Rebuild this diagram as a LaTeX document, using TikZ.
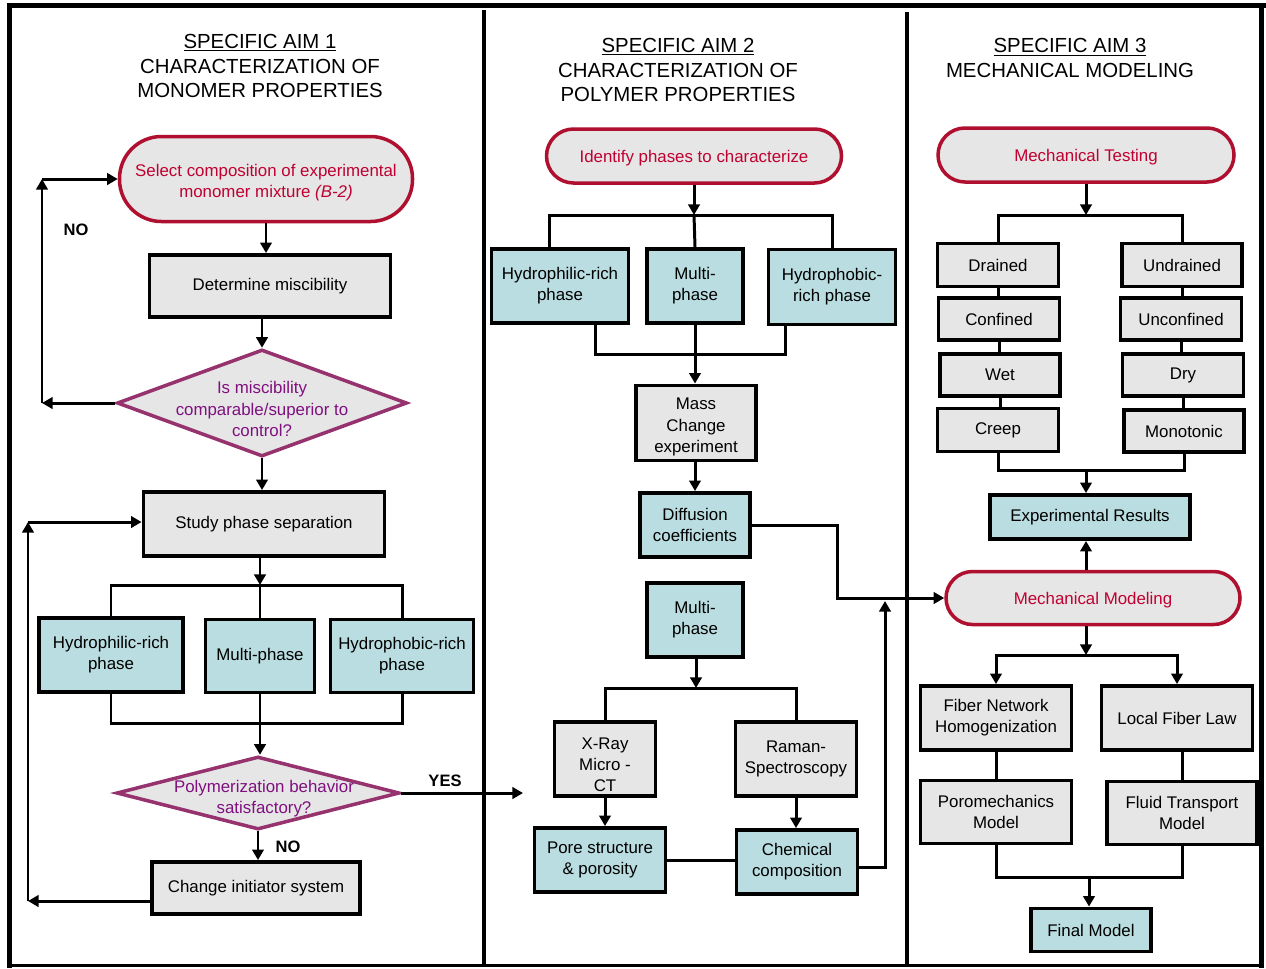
\documentclass[tikz,border=0pt]{standalone}
\usepackage{fontspec}
\setmainfont{Liberation Sans}
\usetikzlibrary{arrows.meta,shapes.geometric,calc}
\definecolor{gfill}{RGB}{230,230,230}
\definecolor{bfill}{RGB}{185,221,224}
\definecolor{tborder}{RGB}{176,16,48}
\definecolor{ttext}{RGB}{192,0,48}
\definecolor{dborder}{RGB}{150,50,110}
\definecolor{dtext}{RGB}{128,16,128}
\newcommand\myboxfont{\fontsize{9.6}{12}\selectfont}
\newcommand\myttlfont{\fontsize{11.6}{14.2}\selectfont}
\newcommand\mylblfont{\fontsize{9.4}{11}\selectfont\bfseries}
\tikzset{
  sz/.style 2 args={minimum width=#1*0.02cm, minimum height=#2*0.02cm},
  gbox/.style={draw=black, fill=gfill, line width=2.2pt, align=center, inner sep=0pt, font=\myboxfont},
  bbox/.style={gbox, fill=bfill},
  term/.style={draw=tborder, fill=gfill, line width=2pt, align=center, inner sep=0pt, font=\myboxfont, text=ttext},
  dia/.style={shape=diamond, draw=dborder, fill=gfill, line width=2pt, inner sep=0pt},
  diatext/.style={align=center, font=\myboxfont, text=dtext, inner sep=0pt},
  boxtext/.style={align=center, font=\myboxfont, inner sep=0pt},
  conn/.style={line width=1.7pt, draw=black},
  arr/.style={conn, -{Triangle[length=6pt,width=6.5pt]}},
  frame/.style={draw=black},
  ttl/.style={align=center, font=\myttlfont, inner sep=0pt},
  lbl/.style={font=\mylblfont, inner sep=0pt}
}
\begin{document}
\begin{tikzpicture}[x=0.02cm,y=-0.02cm]
\useasboundingbox (0,0) rectangle (1266,968);
\fill[white] (0,0) rectangle (1266,968);
% frame
\draw[frame, line width=2.8pt] (7,5.5) -- (1266,5.5);
\draw[frame, line width=2.8pt] (9.5,4) -- (9.5,968);
\draw[frame, line width=2.5pt] (1261.5,5) -- (1261.5,968);
\draw[frame, line width=1.2pt] (9,965.5) -- (1262,965.5);
\draw[frame, line width=2.2pt] (484,10) -- (484,966);
\draw[frame, line width=2.2pt] (907,12) -- (907,966);

% titles
\node[ttl] (ti1) at (260,66) {\underline{SPECIFIC AIM 1}\\CHARACTERIZATION OF\\MONOMER PROPERTIES};
\node[ttl] (ti2) at (678,70) {\underline{SPECIFIC AIM 2}\\CHARACTERIZATION OF\\POLYMER PROPERTIES};
\node[ttl] (ti3) at (1070,58) {\underline{SPECIFIC AIM 3}\\MECHANICAL MODELING};

% ---------- column 1 ----------
\node[term, sz={293}{85}, rounded corners=0.84cm] (t1) at (266,179) {};
\node[boxtext, text=ttext] (t1t) at (266,183) {Select composition of experimental\\monomer mixture \textit{(B-2)}};
\node[gbox, sz={241}{62}] (dm) at (270,286) {Determine miscibility};
\node[dia, sz={290}{107}] (d1) at (262,403) {};
\node[diatext] (d1t) at (262,409) {Is miscibility\\comparable/superior to\\control?};
\node[gbox, sz={241}{64}] (sp) at (264,524) {Study phase separation};
\node[bbox, sz={144}{74}] (h1) at (111,655) {Hydrophilic-rich\\phase};
\node[bbox, sz={109}{73}] (m1) at (260,656) {Multi-phase};
\node[bbox, sz={143}{73}] (p1) at (402,656) {Hydrophobic-rich\\phase};
\node[dia, sz={283}{73}] (d2) at (258,793) {};
\node[diatext] (d2t) at (264,799) {Polymerization behavior\\satisfactory?};
\node[gbox, sz={208}{52}] (ci) at (256,888) {Change initiator system};

\coordinate (n1) at (42,403);
\coordinate (n2) at (42,179);
\coordinate (j1) at (260,585);
\coordinate (j2) at (260,723);
\coordinate (yes) at (523,793);
\coordinate (l1) at (28,901);
\coordinate (l2) at (28,522);

\draw[arr] (t1.south) -- (t1.south |- dm.north);
\draw[arr] (dm.south -| d1.north) -- (d1.north);
\draw[arr] (d1.west) -- (n1);
\draw[arr] (n1) -- (n2);
\draw[arr] (n2) -- (t1.west);
\node[lbl] (no1) at (76,230) {NO};
\draw[arr] (d1.south) -- (d1.south |- sp.north);
\draw[arr] (sp.south -| j1) -- (j1);
\draw[conn] (h1.north) |- (j1) -| (p1.north);
\draw[conn] (j1) -- (m1.north);
\draw[conn] (h1.south) |- (j2) -| (p1.south);
\draw[arr] (m1.south) -- (m1.south |- d2.north);
\draw[arr] (d2.east) -- (yes);
\node[lbl] (yeslbl) at (445,781) {YES};
\draw[arr] (d2.south) -- (d2.south |- ci.north);
\node[lbl] (no2) at (288,847) {NO};
\draw[arr] (ci.west |- l1) -- (l1);
\draw[arr] (l1) -- (l2);
\draw[arr] (l2) -- (sp.west |- l2);

% ---------- column 2 ----------
\node[term, sz={295}{54}, rounded corners=0.54cm] (t2) at (694,156) {};
\node[boxtext, text=ttext] (t2t) at (694,158) {Identify phases to characterize};
\node[bbox, sz={137}{74}] (h2) at (560,286) {Hydrophilic-rich\\phase};
\node[bbox, sz={96}{74}] (m2) at (695,286) {Multi-\\phase};
\node[bbox, sz={127}{75}] (p2) at (832,287) {Hydrophobic-\\rich phase};
\node[gbox, sz={120}{75}] (ms) at (696,423) {};
\node[boxtext] (mst) at (696,427) {Mass\\Change\\experiment};
\node[bbox, sz={110}{64}] (df) at (695,525) {Diffusion\\coefficients};
\node[bbox, sz={96}{74}] (m3) at (695,620) {Multi-\\phase};
\node[gbox, sz={101}{74}] (xr) at (605,759) {};
\node[boxtext] (xrt) at (605,765) {X-Ray\\Micro -\\CT};
\node[gbox, sz={121}{74}] (rs) at (796,759) {Raman-\\Spectroscopy};
\node[bbox, sz={131}{64}] (ps) at (600,860) {Pore structure\\\& porosity};
\node[bbox, sz={121}{64}] (cc) at (797,862) {Chemical\\composition};

\coordinate (j3) at (694,215);
\coordinate (c1) at (549,215);
\coordinate (c3) at (595,354);
\coordinate (c4) at (785,354);
\coordinate (k1) at (837,560);
\coordinate (j5) at (696,688);
\coordinate (k2) at (885,601);
\coordinate (k3) at (870,867);

\draw[arr] (t2.south) -- (j3);
\draw[conn] (h2.north -| c1) -- (c1) -- (j3) -| (p2.north);
\draw[conn] (j3) -- (m2.north);
\draw[conn] (h2.south -| c3) -- (c3) -- (c4) -- (p2.south -| c4);
\draw[arr] (m2.south) -- (m2.south |- ms.north);
\draw[arr] (ms.south -| df.north) -- (df.north);
\draw[arr] (m3.south -| j5) -- (j5);
\draw[conn] (xr.north) |- (j5) -| (rs.north);
\draw[arr] (xr.south) -- (xr.south |- ps.north);
\draw[arr] (rs.south) -- (rs.south |- cc.north);
\draw[conn] (ps.east) -- (ps.east -| cc.west);
\draw[arr] (cc.east |- k3) -| (k2);

% ---------- column 3 ----------
\node[term, sz={296}{54}, rounded corners=0.54cm] (t3) at (1086,155) {};
\node[boxtext, text=ttext] (t3t) at (1086,157) {Mechanical Testing};
\node[gbox, sz={121}{43}] (dr) at (998,265) {Drained};
\node[gbox, sz={121}{42}] (cf) at (999,319) {Confined};
\node[gbox, sz={120}{42}] (wt) at (1000,375) {Wet};
\node[gbox, sz={121}{43}] (cr) at (998,430) {Creep};
\node[gbox, sz={120}{43}] (ud) at (1182,265) {Undrained};
\node[gbox, sz={121}{42}] (uc) at (1181,319) {Unconfined};
\node[gbox, sz={121}{42}] (dy) at (1183,375) {Dry};
\node[gbox, sz={120}{42}] (mo) at (1184,431) {Monotonic};
\node[bbox, sz={200}{44}] (er) at (1090,517) {Experimental Results};
\node[term, sz={294}{53}, rounded corners=0.53cm] (mm) at (1093,598) {};
\node[boxtext, text=ttext] (mmt) at (1093,600) {Mechanical Modeling};
\node[gbox, sz={151}{64}] (fn) at (996,718) {Fiber Network\\Homogenization};
\node[gbox, sz={151}{64}] (lf) at (1177,718) {Local Fiber Law};
\node[gbox, sz={151}{63}] (pm) at (996,812) {Poromechanics\\Model};
\node[gbox, sz={150}{63}] (ft) at (1182,813) {Fluid Transport\\Model};
\node[bbox, sz={120}{43}] (fm) at (1091,930) {Final Model};

\coordinate (j6) at (1086,215);
\coordinate (j7) at (1086,470);
\coordinate (j8) at (1086,655);
\coordinate (j9) at (1089,877);

\draw[arr] (t3.south) -- (j6);
\draw[conn] (dr.north) |- (j6) -| (ud.north);
\draw[conn] (dr.south) -- (dr.south |- cf.north);
\draw[conn] (cf.south) -- (cf.south |- wt.north);
\draw[conn] (wt.south) -- (wt.south |- cr.north);
\draw[conn] (ud.south) -- (ud.south |- uc.north);
\draw[conn] (uc.south) -- (uc.south |- dy.north);
\draw[conn] (dy.south) -- (dy.south |- mo.north);
\draw[conn] (cr.south) |- (j7) -| (mo.south);
\draw[arr] (j7) -- (j7 |- er.north);
\draw[arr] (j7 |- mm.north) -- (j7 |- er.south);
\draw[arr] (df.east) -| (k1) |- (mm.west);
\draw[arr] (j8 |- mm.south) -- (j8);
\draw[arr] (j8) -| (fn.north);
\draw[arr] (j8) -| (lf.north);
\draw[conn] (fn.south) -- (fn.south |- pm.north);
\draw[conn] (ft.north |- lf.south) -- (ft.north);
\draw[conn] (pm.south) |- (j9) -| (ft.south);
\draw[arr] (j9) -- (j9 |- fm.north);
\end{tikzpicture}
\end{document}
